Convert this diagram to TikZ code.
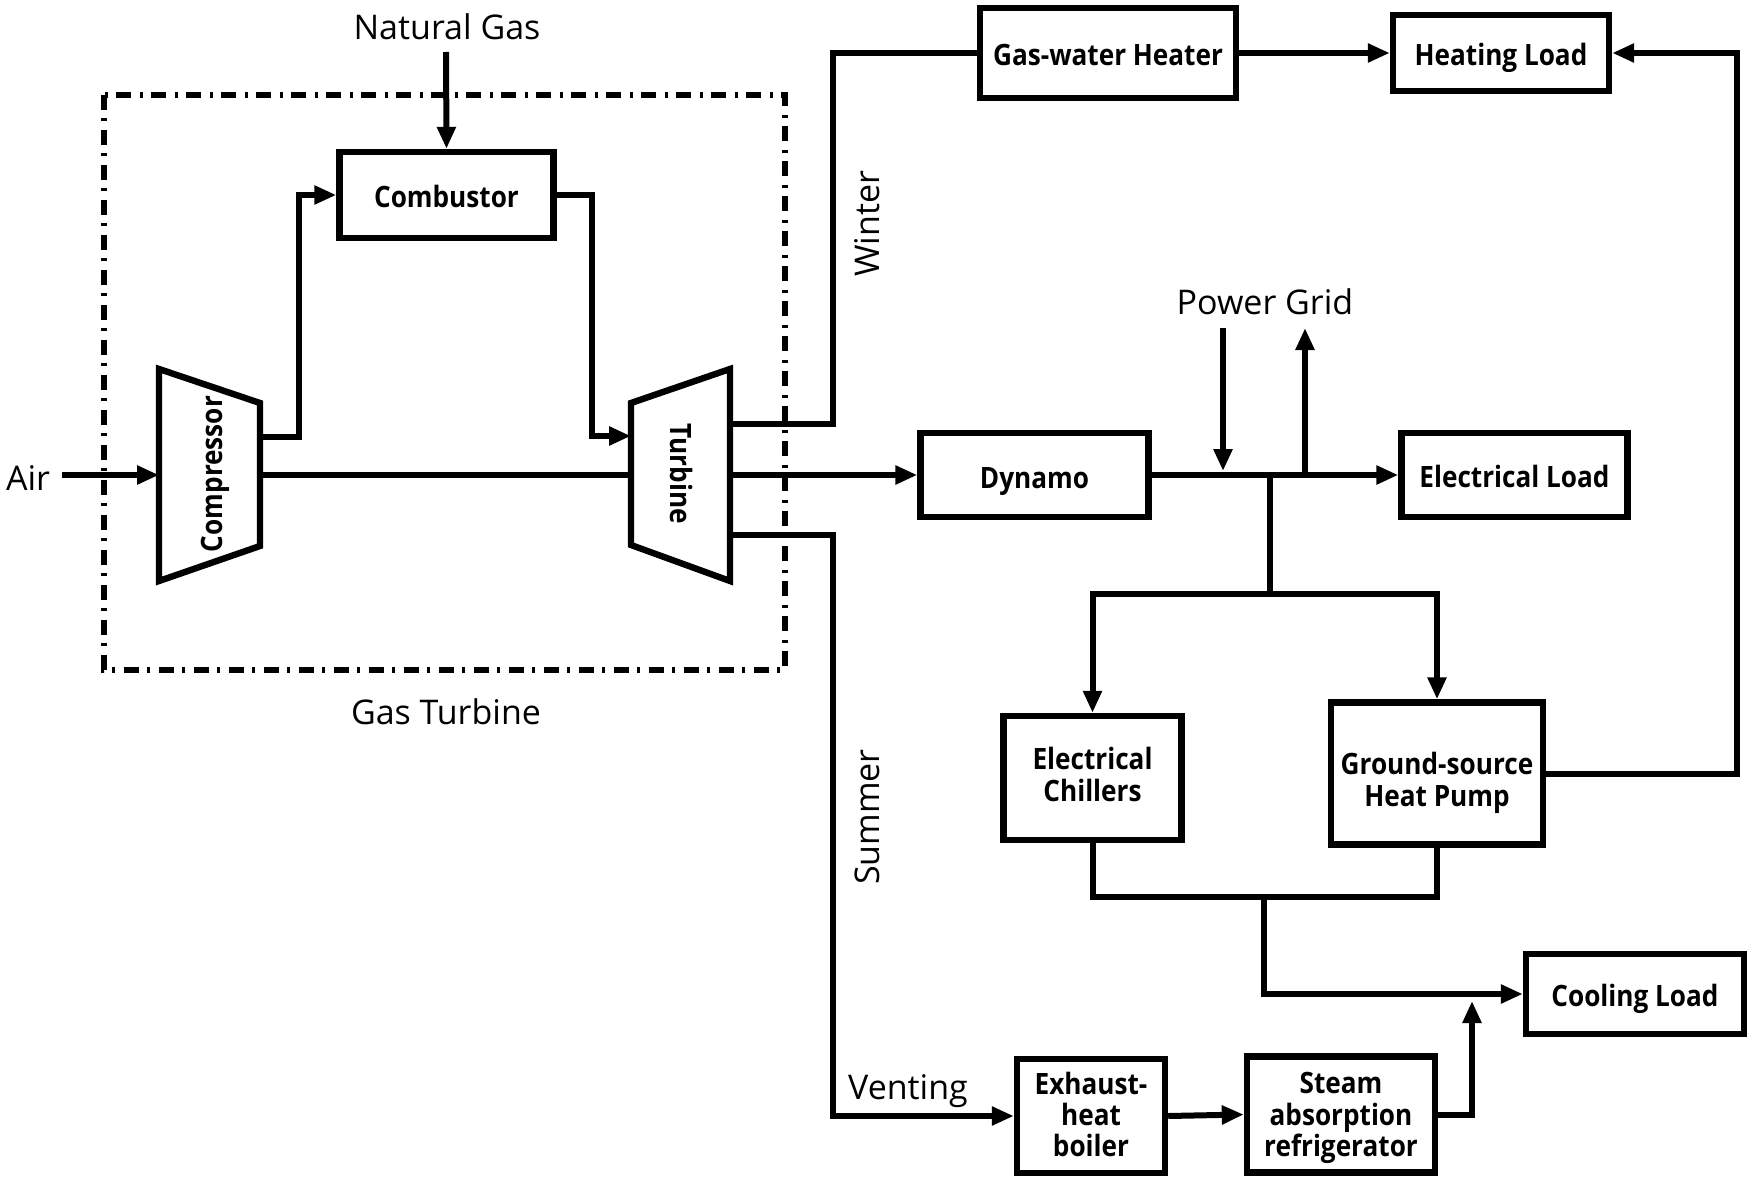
\documentclass[tikz,border=0pt]{standalone}
\usepackage{fontspec}
\setmainfont{Open Sans}
\newfontfamily\boxfont[FakeStretch=0.89]{Open Sans}
\usetikzlibrary{arrows.meta}
\tikzset{
  conn/.style={line width=3pt, line join=miter},
  arr/.style={conn, -{Triangle[length=11pt,width=9pt]}},
  blk/.style={draw, line width=3.2pt, inner sep=0pt, align=center,
    font=\boxfont\bfseries\fontsize{14.7}{15.6}\selectfont,
    text height=12.9pt, text depth=0pt},
  lbl/.style={font=\fontsize{17}{20}\selectfont, inner sep=0pt, anchor=base},
  blbl/.style={font=\boxfont\bfseries\fontsize{14.7}{15.6}\selectfont, inner sep=0pt, anchor=base},
  dashdotbox/.style={line width=3.2pt, dash pattern=on 7.5pt off 4pt on 1.5pt off 4.5pt}
}
\begin{document}
\begin{tikzpicture}[x=0.5pt,y=-0.5pt]
\useasboundingbox (0,0) rectangle (1750,1177);
% gas turbine enclosure
\draw[dashdotbox] (104,95) rectangle (785,670);
\node[lbl] (gtlabel) at (446,724) {Gas Turbine};
% compressor and turbine
\draw[conn, line width=3.2pt] (159,369) -- (260,403) -- (260,546) -- (159,581) -- cycle;
\draw[conn, line width=3.2pt] (631,403) -- (730,369) -- (730,581) -- (631,545) -- cycle;
\node[blbl, rotate=90] (compl) at (222,474) {Compressor};
\node[blbl, rotate=-90] (turbl) at (670,474) {Turbine};
\coordinate (cin) at (159,475);
\coordinate (cout) at (260,437);
\coordinate (cm) at (260,475);
\coordinate (tin) at (631,436);
\coordinate (tl) at (631,475);
\coordinate (tw) at (730,424);
\coordinate (tm) at (730,475);
\coordinate (ts) at (730,535);
% boxes
\node[blk, minimum width=107pt, minimum height=43pt] (comb) at (446.5,195) {Combustor};
\node[blk, minimum width=128pt, minimum height=45pt] (gwh) at (1108,53) {Gas-water Heater};
\node[blk, minimum width=108pt, minimum height=38pt] (heat) at (1501,53) {Heating Load};
\node[blk, minimum width=114pt, minimum height=42pt, text height=13.5pt] (dyn) at (1034.5,475) {Dynamo};
\node[blk, minimum width=113pt, minimum height=42pt] (eload) at (1514.5,475) {Electrical Load};
\node[blk, minimum width=89pt, minimum height=62pt, text height=23.1pt] (echill) at (1092.5,778) {Electrical\\Chillers};
\node[blk, minimum width=106pt, minimum height=71pt, text height=32.5pt] (gshp) at (1437,773.5) {Ground-source\\Heat Pump};
\node[blk, minimum width=109pt, minimum height=40pt] (cool) at (1635,994) {Cooling Load};
\node[blk, minimum width=74pt, minimum height=57pt, text height=40.7pt] (boiler) at (1091,1116) {Exhaust-\\heat\\boiler};
\node[blk, minimum width=94pt, minimum height=58pt, text height=41.7pt] (sar) at (1341,1114.5) {Steam\\absorption\\refrigerator};
% labels
\node[lbl] (ng) at (447,40) {Natural Gas};
\node[lbl] (air) at (28,490) {Air};
\node[lbl] (pg) at (1265,314) {Power Grid};
\node[lbl] (vent) at (908,1099) {Venting};
\node[lbl, rotate=90] (winter) at (879,224) {Winter};
\node[lbl, rotate=90] (summer) at (879,817) {Summer};
% free ends
\coordinate (ngstart) at (446,52);
\coordinate (airstart) at (62,475);
\coordinate (pgdown) at (1223,328);
\coordinate (pgdownend) at (1223,471);
\coordinate (pgup) at (1305,475);
\coordinate (pgupend) at (1305,328);
\coordinate (jb) at (1270,475);
\coordinate (sp) at (1270,594);
\coordinate (mj) at (1264,897);
\coordinate (sarup) at (1472,1001);
% connectors
\draw[arr] (airstart) -- (cin);
\draw[arr] (ngstart) -- (comb.north);
\draw[arr] (cout) -- (299,437) |- (comb.west);
\draw[arr] (comb.east) -| (592,436) -- (tin);
\draw[conn] (cm) -- (tl);
\draw[arr] (tm) -- (dyn.west);
\draw[conn] (tw) -| (833,53) -- (gwh.west);
\draw[arr] (gwh.east) -- (heat.west);
\draw[arr] (gshp.east) -| (1737,53) -- (heat.east);
\draw[arr] (ts) -| (833,1116) -- (boiler.west);
\draw[arr] (boiler.east) -- (sar.west);
\draw[arr] (sar.east) -| (sarup);
\draw[arr] (dyn.east) -- (eload.west);
\draw[arr] (pgdown) -- (pgdownend);
\draw[arr] (pgup) -- (pgupend);
\draw[conn] (jb) -- (sp);
\draw[arr] (sp) -| (echill.north);
\draw[arr] (sp) -| (gshp.north);
\draw[conn] (echill.south) |- (mj) -| (gshp.south);
\draw[arr] (mj) |- (cool.west);
\end{tikzpicture}
\end{document}
